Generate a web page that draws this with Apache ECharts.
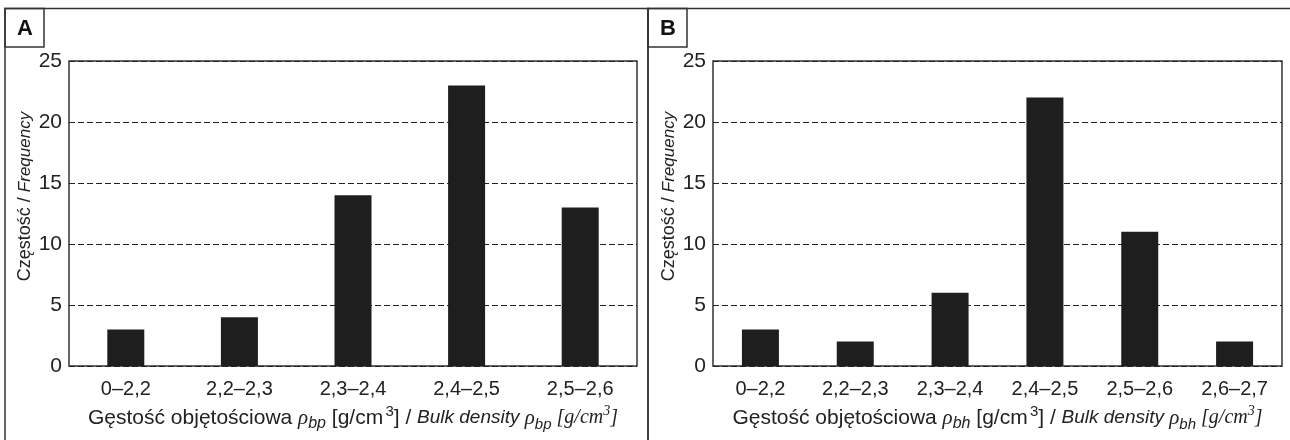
<!DOCTYPE html>
<html>
<head>
<meta charset="utf-8">
<script src="https://cdn.jsdelivr.net/npm/echarts@6/dist/echarts.min.js"></script>
<style>
html,body{margin:0;padding:0;background:#fff;}
#chart{width:1290px;height:440px;}
</style>
</head>
<body>
<div id="chart"></div>
<script>
// ---- data ----
const categoriesA = ['0–2,2', '2,2–2,3', '2,3–2,4', '2,4–2,5', '2,5–2,6'];
const valuesA = [3, 4, 14, 23, 13];
const categoriesB = ['0–2,2', '2,2–2,3', '2,3–2,4', '2,4–2,5', '2,5–2,6', '2,6–2,7'];
const valuesB = [3, 2, 6, 22, 11, 2];
const yMin = 0, yMax = 25, yStep = 5;
const panelLabels = ['A', 'B'];
const subA = 'bp', subB = 'bh';

const SANS = 'Liberation Sans, Arial, sans-serif';
const SERIF = 'Liberation Serif, Times New Roman, serif';
const TXT = '#222';

function xTitle(sub) {
  return '{n|Gęstość objętościowa }{rho|ρ}{sub|' + sub + '}{n| [g/cm}{gap| }{sup|3}{n|] / }{it|Bulk density }{rho|ρ}{sub2|' + sub + '}{ser| [g/cm}{sersup|3}{ser|]}';
}
const xRich = {
  n: {fontFamily: SANS, fontSize: 21, color: TXT, lineHeight: 28, verticalAlign: 'middle'},
  gap: {fontFamily: SANS, fontSize: 8, color: TXT, lineHeight: 28, verticalAlign: 'middle'},
  it: {fontFamily: SANS, fontStyle: 'italic', fontSize: 19, color: TXT, lineHeight: 28, verticalAlign: 'middle'},
  rho: {fontFamily: SERIF, fontStyle: 'italic', fontSize: 21, color: TXT, lineHeight: 28, verticalAlign: 'middle'},
  sub: {fontFamily: SANS, fontStyle: 'italic', fontSize: 16, color: TXT, lineHeight: 16, verticalAlign: 'bottom'},
  sub2: {fontFamily: SANS, fontStyle: 'italic', fontSize: 15, color: TXT, lineHeight: 16, verticalAlign: 'bottom'},
  sup: {fontFamily: SANS, fontSize: 15, color: TXT, lineHeight: 18, verticalAlign: 'top'},
  ser: {fontFamily: SERIF, fontStyle: 'italic', fontSize: 20, color: TXT, lineHeight: 28, verticalAlign: 'middle'},
  sersup: {fontFamily: SERIF, fontStyle: 'italic', fontSize: 14, color: TXT, lineHeight: 18, verticalAlign: 'top'}
};
const yRich = {
  n: {fontFamily: SANS, fontSize: 18, color: TXT},
  i: {fontFamily: SANS, fontStyle: 'italic', fontSize: 17, color: TXT}
};

function xAxisCfg(cats, sub, idx) {
  return {
    type: 'category', gridIndex: idx, data: cats,
    axisLine: {show: false}, axisTick: {show: false},
    axisLabel: {fontFamily: SANS, fontSize: 20, color: TXT, margin: 13},
    name: xTitle(sub), nameLocation: 'middle', nameGap: 38,
    nameTextStyle: {rich: xRich}
  };
}
function yAxisCfg(idx) {
  return {
    type: 'value', gridIndex: idx, min: yMin, max: yMax, interval: yStep,
    axisLine: {show: false}, axisTick: {show: false},
    axisLabel: {fontFamily: SANS, fontSize: 21, color: TXT, margin: 7},
    splitLine: {show: true, lineStyle: {color: '#222', type: [6, 3], width: 1}},
    name: '{n|Częstość / }{i|Frequency}', nameLocation: 'middle', nameRotate: 90, nameGap: 35,
    nameTextStyle: {rich: yRich, padding: [0, 0, 0, 34]}
  };
}
function barSeries(vals, idx) {
  return {
    type: 'bar', xAxisIndex: idx, yAxisIndex: idx, data: vals,
    barWidth: 37, itemStyle: {color: '#1e1e1e'}, silent: true
  };
}

const chart = echarts.init(document.getElementById('chart'), null, {renderer: 'canvas'});
chart.setOption({
  animation: false,
  backgroundColor: '#fff',
  grid: [
    {left: 69, top: 61, width: 568, height: 305, show: true, borderColor: '#333', borderWidth: 1.5, backgroundColor: 'transparent'},
    {left: 713, top: 61, width: 569, height: 305, show: true, borderColor: '#333', borderWidth: 1.5, backgroundColor: 'transparent'}
  ],
  xAxis: [xAxisCfg(categoriesA, subA, 0), xAxisCfg(categoriesB, subB, 1)],
  yAxis: [yAxisCfg(0), yAxisCfg(1)],
  series: [barSeries(valuesA, 0), barSeries(valuesB, 1)],
  graphic: [
    {type: 'rect', shape: {x: 5, y: 8.5, width: 643, height: 445}, style: {fill: 'none', stroke: '#333', lineWidth: 1.5}, z: 10},
    {type: 'rect', shape: {x: 648, y: 8.5, width: 660, height: 445}, style: {fill: 'none', stroke: '#333', lineWidth: 1.5}, z: 10},
    {type: 'rect', shape: {x: 5, y: 8.5, width: 39, height: 38.5}, style: {fill: 'none', stroke: '#333', lineWidth: 1.5}, z: 10},
    {type: 'rect', shape: {x: 648, y: 8.5, width: 39, height: 38.5}, style: {fill: 'none', stroke: '#333', lineWidth: 1.5}, z: 10},
    {type: 'text', x: 25, y: 29, style: {text: panelLabels[0], font: 'bold 22px ' + SANS, fill: '#111', align: 'center', verticalAlign: 'middle'}, z: 10},
    {type: 'text', x: 668, y: 29, style: {text: panelLabels[1], font: 'bold 22px ' + SANS, fill: '#111', align: 'center', verticalAlign: 'middle'}, z: 10}
  ]
});
</script>
</body>
</html>
